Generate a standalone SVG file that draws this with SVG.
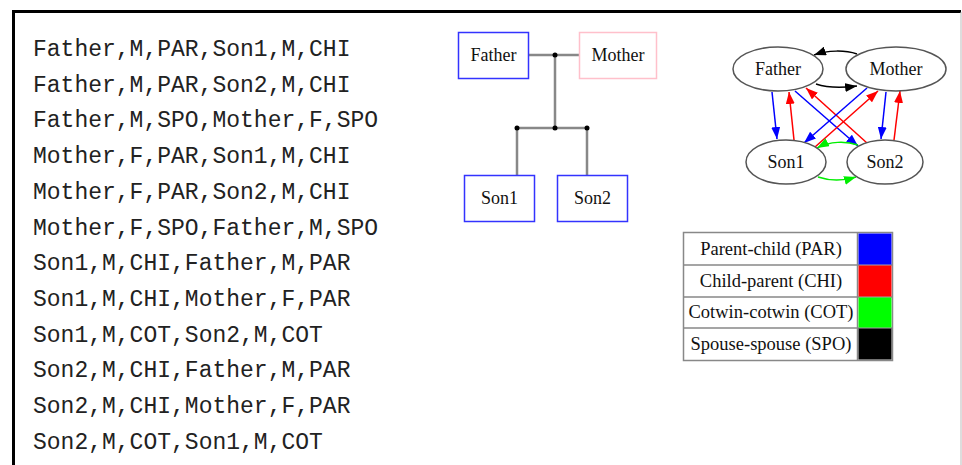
<svg xmlns="http://www.w3.org/2000/svg" width="962" height="465" viewBox="0 0 962 465">
<defs>
<style>
.mono{font-family:"Liberation Mono","Courier New",monospace;font-size:23px;fill:#222}
.ser{font-family:"Liberation Serif","Times New Roman",serif;font-size:18px;fill:#111;text-anchor:middle}
.leg{font-family:"Liberation Serif","Times New Roman",serif;font-size:18.5px;fill:#111;text-anchor:middle}
.ped{stroke:#888;stroke-width:2.5;fill:none}
.ell{fill:#fff;stroke:#555;stroke-width:1.5}
.e{fill:none;stroke-width:1.5}
</style>
<marker id="ab" viewBox="0 0 12 9" refX="12" refY="4.5" markerWidth="12" markerHeight="9" markerUnits="userSpaceOnUse" orient="auto"><path d="M0,0L12,4.5L0,9z" fill="#0000ff"/></marker>
<marker id="ar" viewBox="0 0 12 9" refX="12" refY="4.5" markerWidth="12" markerHeight="9" markerUnits="userSpaceOnUse" orient="auto"><path d="M0,0L12,4.5L0,9z" fill="#ff0000"/></marker>
<marker id="ag" viewBox="0 0 12 9" refX="12" refY="4.5" markerWidth="12" markerHeight="9" markerUnits="userSpaceOnUse" orient="auto"><path d="M0,0L12,4.5L0,9z" fill="#00ee00"/></marker>
<marker id="ak" viewBox="0 0 12 9" refX="12" refY="4.5" markerWidth="12" markerHeight="9" markerUnits="userSpaceOnUse" orient="auto"><path d="M0,0L12,4.5L0,9z" fill="#000"/></marker>
</defs>
<rect width="962" height="465" fill="#fff"/>
<path d="M13.5,470V11.5H961" fill="none" stroke="#000" stroke-width="3"/>
<line x1="961" y1="12" x2="961" y2="465" stroke="#bbb" stroke-width="1"/>

<g id="records">
<text class="mono" x="33" y="56">Father,M,PAR,Son1,M,CHI</text>
<text class="mono" x="33" y="91.7">Father,M,PAR,Son2,M,CHI</text>
<text class="mono" x="33" y="127.4">Father,M,SPO,Mother,F,SPO</text>
<text class="mono" x="33" y="163.1">Mother,F,PAR,Son1,M,CHI</text>
<text class="mono" x="33" y="198.8">Mother,F,PAR,Son2,M,CHI</text>
<text class="mono" x="33" y="234.5">Mother,F,SPO,Father,M,SPO</text>
<text class="mono" x="33" y="270.2">Son1,M,CHI,Father,M,PAR</text>
<text class="mono" x="33" y="305.9">Son1,M,CHI,Mother,F,PAR</text>
<text class="mono" x="33" y="341.6">Son1,M,COT,Son2,M,COT</text>
<text class="mono" x="33" y="377.3">Son2,M,CHI,Father,M,PAR</text>
<text class="mono" x="33" y="413">Son2,M,CHI,Mother,F,PAR</text>
<text class="mono" x="33" y="448.7">Son2,M,COT,Son1,M,COT</text>
</g>

<g id="pedigree-lines">
<path class="ped" d="M528,55H579M555,55V128M517,128H587M517,128V175M587,128V175"/>
<circle cx="555" cy="55" r="2.5" fill="#000"/>
<circle cx="555" cy="128" r="2.5" fill="#000"/>
<circle cx="517" cy="128" r="2.5" fill="#000"/>
<circle cx="587" cy="128" r="2.5" fill="#000"/>
</g>
<g id="ped-father"><rect x="458.5" y="32.5" width="70" height="46" fill="#fff" stroke="#3333ff" stroke-width="1.5"/><text class="ser" x="493.5" y="61">Father</text></g>
<g id="ped-mother"><rect x="579.5" y="32.5" width="77" height="46" fill="#fff" stroke="#ffc0cb" stroke-width="1.5"/><text class="ser" x="618" y="61">Mother</text></g>
<g id="ped-son1"><rect x="464.5" y="175.5" width="70" height="46" fill="#fff" stroke="#3333ff" stroke-width="1.5"/><text class="ser" x="499.5" y="204">Son1</text></g>
<g id="ped-son2"><rect x="557.5" y="175.5" width="70" height="46" fill="#fff" stroke="#3333ff" stroke-width="1.5"/><text class="ser" x="592.5" y="204">Son2</text></g>

<g id="connectors">
<path class="e" stroke="#000" d="M857,54C845,50 828,50 814,55" marker-end="url(#ak)"/>
<path class="e" stroke="#000" d="M816,84C828,88 842,88 857,86" marker-end="url(#ak)"/>
<path class="e" stroke="#0000ff" d="M772,92L777,139" marker-end="url(#ab)"/>
<path class="e" stroke="#ff0000" d="M794,140L789,92" marker-end="url(#ar)"/>
<path class="e" stroke="#0000ff" d="M795,91L858,146" marker-end="url(#ab)"/>
<path class="e" stroke="#ff0000" d="M867,143L806,88" marker-end="url(#ar)"/>
<path class="e" stroke="#0000ff" d="M867,88L804,143" marker-end="url(#ab)"/>
<path class="e" stroke="#ff0000" d="M815,147L878,91" marker-end="url(#ar)"/>
<path class="e" stroke="#0000ff" d="M886,92L881,139" marker-end="url(#ab)"/>
<path class="e" stroke="#ff0000" d="M894,140L900,91" marker-end="url(#ar)"/>
<path class="e" stroke="#00ee00" d="M858,145C846,141 830,141 817,148" marker-end="url(#ag)"/>
<path class="e" stroke="#00ee00" d="M818,177C830,181 843,181 856,177" marker-end="url(#ag)"/>
</g>
<g id="g-father"><ellipse class="ell" cx="778" cy="69" rx="45" ry="22"/><text class="ser" x="778" y="75">Father</text></g>
<g id="g-mother"><ellipse class="ell" cx="896" cy="69" rx="50" ry="22"/><text class="ser" x="896" y="75">Mother</text></g>
<g id="g-son1"><ellipse class="ell" cx="786" cy="162" rx="40" ry="22"/><text class="ser" x="786" y="168">Son1</text></g>
<g id="g-son2"><ellipse class="ell" cx="885" cy="162" rx="38" ry="22"/><text class="ser" x="885" y="168">Son2</text></g>

<g id="legend">
<rect x="683.5" y="232.5" width="209" height="128" fill="#fff" stroke="#888" stroke-width="1.5"/>
<path d="M684,265H892M684,297H892M684,328H892M857.5,233V360" stroke="#888" stroke-width="1.5"/>
<rect x="858.5" y="233.5" width="33" height="31" fill="#0000ff"/>
<rect x="858.5" y="265.5" width="33" height="31" fill="#ff0000"/>
<rect x="858.5" y="297.5" width="33" height="30" fill="#00ff00"/>
<rect x="858.5" y="328.5" width="33" height="31" fill="#000"/>
<text class="leg" x="771" y="255">Parent-child (PAR)</text>
<text class="leg" x="771" y="287">Child-parent (CHI)</text>
<text class="leg" x="771" y="318">Cotwin-cotwin (COT)</text>
<text class="leg" x="771" y="350">Spouse-spouse (SPO)</text>
</g>
</svg>
